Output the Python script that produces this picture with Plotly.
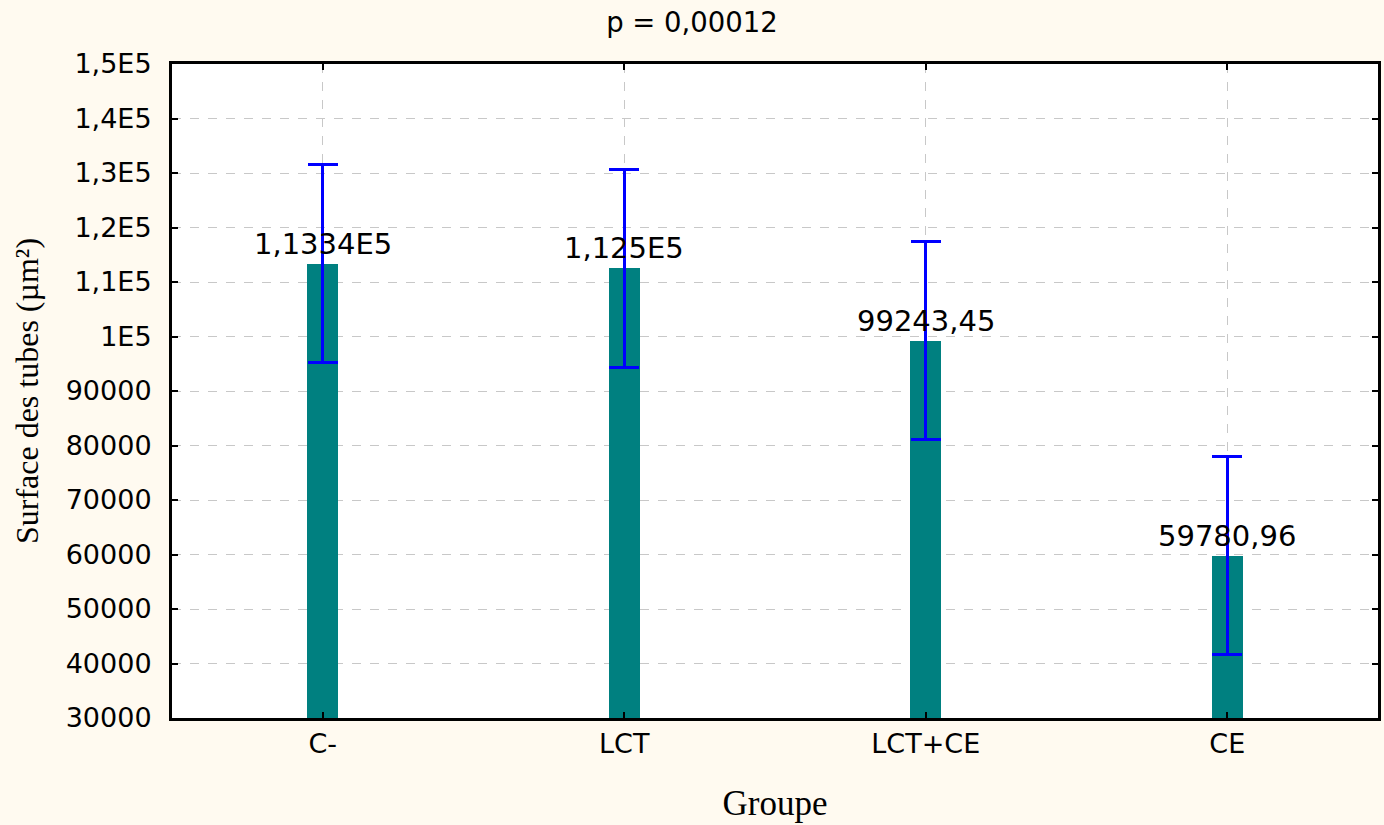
import plotly.graph_objects as go

groups = ["C-", "LCT", "LCT+CE", "CE"]
means = [113340, 112500, 99243.45, 59780.96]
errors = [18160, 18160, 18160, 18160]
value_labels = ["1,1334E5", "1,125E5", "99243,45", "59780,96"]

y_tickvals = [30000, 40000, 50000, 60000, 70000, 80000, 90000,
              100000, 110000, 120000, 130000, 140000, 150000]
y_ticktext = ["30000", "40000", "50000", "60000", "70000", "80000", "90000",
              "1E5", "1,1E5", "1,2E5", "1,3E5", "1,4E5", "1,5E5"]

fig = go.Figure()
fig.add_trace(go.Bar(
    x=groups, y=means, width=0.104,
    marker=dict(color="#008080", line=dict(width=0)),
    error_y=dict(type="data", array=errors, visible=True,
                 color="#0000FF", thickness=3, width=15),
    hoverinfo="skip",
))

for g, m, lab in zip(groups, means, value_labels):
    fig.add_annotation(x=g, y=m, text=lab, showarrow=False,
                       xanchor="center", yanchor="bottom", yshift=1,
                       font=dict(family="DejaVu Sans", size=29, color="#000000"))

fig.update_layout(
    width=1384, height=825,
    paper_bgcolor="#FFFAF0", plot_bgcolor="#FFFFFF",
    margin=dict(l=172, r=3, t=64, b=107),
    showlegend=False,
    bargap=0,
    title=dict(text="p = 0,00012", x=0.5, xanchor="center",
               y=1 - 22/825, yanchor="middle",
               font=dict(family="DejaVu Sans", size=27.5, color="#000000")),
    font=dict(family="DejaVu Sans", color="#000000"),
)

fig.update_xaxes(
    showline=True, linecolor="#000000", linewidth=3, mirror="ticks",
    ticks="inside", ticklen=6, tickwidth=2, tickcolor="#000000",
    showgrid=True, gridcolor="#C8C8C8", griddash="dash", gridwidth=1,
    tickfont=dict(family="DejaVu Sans", size=27, color="#000000"),
    title=dict(text="Groupe", standoff=33,
               font=dict(family="Liberation Serif", size=35, color="#000000")),
    range=[-0.5, 3.5],
)

fig.update_yaxes(
    range=[30000, 150000], tickvals=y_tickvals, ticktext=y_ticktext,
    showline=True, linecolor="#000000", linewidth=3, mirror="ticks",
    ticks="inside", ticklen=6, tickwidth=2, tickcolor="#000000",
    showgrid=True, gridcolor="#C8C8C8", griddash="dash", gridwidth=1,
    zeroline=False,
    tickfont=dict(family="DejaVu Sans", size=27, color="#000000"),
    ticklabelstandoff=12,
    title=dict(text="Surface des tubes (µm²)", standoff=18,
               font=dict(family="Liberation Serif", size=32, color="#000000")),
)

fig.write_html("out.html", config={"displayModeBar": False},
               post_script="document.body.style.margin='0';")
